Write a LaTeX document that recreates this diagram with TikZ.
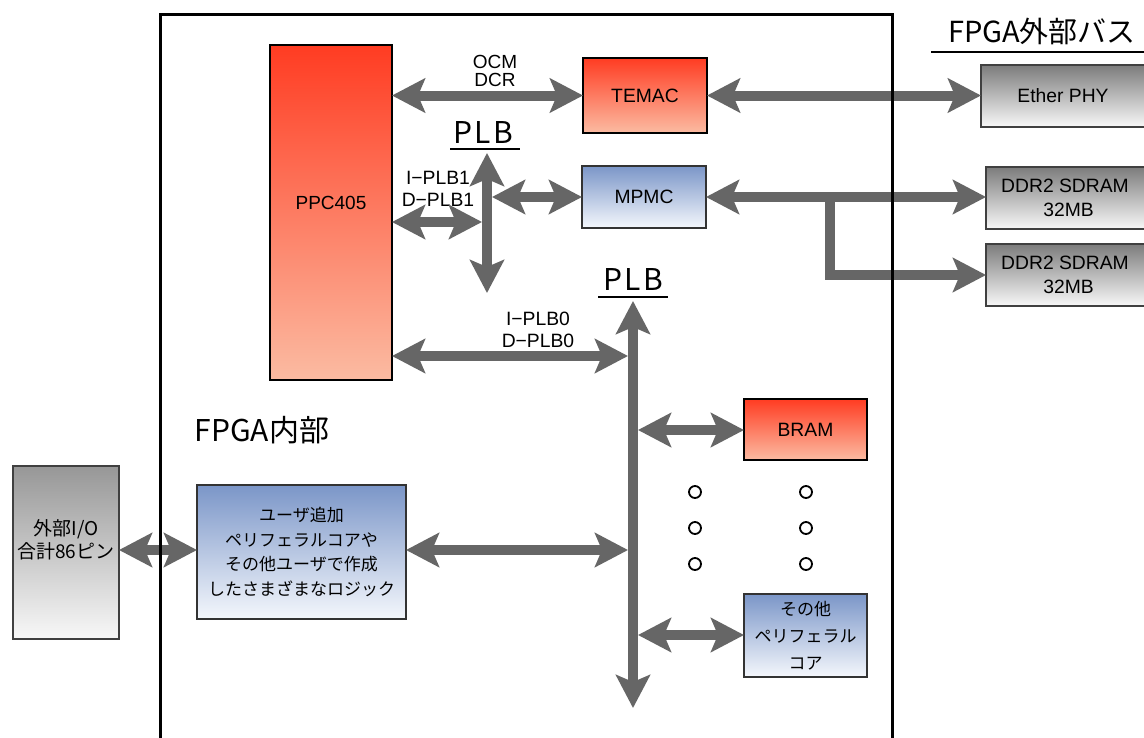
\documentclass[tikz,border=0pt]{standalone}
\usepackage{fontspec}
\setmainfont{Liberation Sans}
\newfontfamily\jp{Noto Sans CJK JP}
\newfontfamily\plbf[LetterSpace=8]{Noto Sans CJK JP}
\usetikzlibrary{arrows.meta}
\definecolor{arr}{HTML}{666666}
\definecolor{redtop}{HTML}{FF3C22}
\definecolor{redbot}{HTML}{FBBBA2}
\definecolor{bluetop}{HTML}{7B96C8}
\definecolor{bluebot}{HTML}{F4F7FC}
\definecolor{graytop}{HTML}{7C7C7C}
\definecolor{graybot}{HTML}{F8F8F8}
\definecolor{iotop}{HTML}{979797}
\begin{document}
\begin{tikzpicture}[x=1pt,y=-1pt,
  every node/.style={inner sep=0pt, outer sep=0pt},
  box/.style={draw, anchor=north west, align=center, font=\fontsize{19.3}{24}\selectfont},
  redbox/.style={box, line width=2pt, top color=redtop, bottom color=redbot},
  bluebox/.style={box, draw=black!80, line width=1.4pt, top color=bluetop, bottom color=bluebot},
  graybox/.style={box, draw=black!75, line width=1.4pt, top color=graytop, bottom color=graybot},
  jptext/.style={font=\jp\fontsize{17}{24.5}\selectfont, align=center},
  lbl/.style={font=\fontsize{19}{18}\selectfont, align=center},
  plb/.style={font=\plbf\fontsize{30}{30}\selectfont},
  >={Stealth[length=33pt,width=34pt,inset=7pt]},
  bus/.style={draw=arr, line width=10pt},
  dbl/.style={bus, <->},
  sgl/.style={bus, ->},
  dot/.style={draw, line width=1.8pt, circle, minimum size=12pt},
]
\clip (0,0) rectangle (1144,737);
\fill[white] (0,0) rectangle (1144,737);

% boxes
\node[redbox, minimum width=122pt, minimum height=335pt] (ppc) at (270,45) {};
\node[lbl] (ppct) at (331,203) {PPC405};
\node[redbox, minimum width=124pt, minimum height=75pt] (tem) at (583,58) {TEMAC};
\node[bluebox, minimum width=124pt, minimum height=62pt] (mpmc) at (582,166) {MPMC};
\node[graybox, minimum width=170pt, minimum height=62pt] (eth) at (981,65) {\hspace*{-6pt}Ether PHY};
\node[graybox, minimum width=165pt, minimum height=62pt] (ddr1) at (986,167) {\hspace*{-7pt}DDR2 SDRAM\\32MB};
\node[graybox, minimum width=165pt, minimum height=62pt] (ddr2) at (986,244) {\hspace*{-7pt}DDR2 SDRAM\\32MB};
\node[redbox, minimum width=123pt, minimum height=61pt] (bram) at (744,399) {BRAM};
\node[bluebox, minimum width=123pt, minimum height=83pt, jptext, font=\jp\fontsize{17}{27}\selectfont] (oth) at (744,594) {その他\\ペリフェラル\\コア};
\node[bluebox, minimum width=209pt, minimum height=134pt, jptext] (user) at (197,485) {ユーザ追加\\ペリフェラルコアや\\その他ユーザで作成\\したさまざまなロジック};
\node[box, draw=black!75, line width=1.4pt, top color=iotop, bottom color=graybot, minimum width=106pt, minimum height=173pt] (io) at (13,466) {};
\node[jptext, font=\jp\fontsize{19}{23}\selectfont] (iot) at (66,540) {外部I/O\\合計86ピン};

% labels
\node[lbl] (ocm) at (495,71) {OCM\\DCR};
\node[lbl, font=\fontsize{19.3}{21.5}\selectfont] (plb1) at (438,189) {I−PLB1\\D−PLB1};
\node[lbl, font=\fontsize{19.3}{22}\selectfont] (plb0) at (538,330) {I−PLB0\\D−PLB0};
\node[plb] (plbA) at (483,133) {PLB};
\draw[line width=2.5pt] (450,149) -- (520,149);
\node[plb] (plbB) at (633,279) {PLB};
\draw[line width=2.5pt] (598,297) -- (668,297);
\node[font=\jp\fontsize{29}{29}\selectfont] (ext) at (1042,31) {FPGA外部バス};
\draw[line width=2.5pt] (931,52) -- (1144,52);
\node[font=\jp\fontsize{30}{30}\selectfont] (int) at (262,430) {FPGA内部};

% bus coordinates
\coordinate (b1t) at (487,153);
\coordinate (b1b) at (487,293);
\coordinate (b1l) at (482,222);
\coordinate (b1r) at (492,197);
\coordinate (b2t) at (633,301);
\coordinate (b2b) at (633,708);
\coordinate (b2l) at (628,356);
\coordinate (b2u) at (628,550);
\coordinate (b2r) at (638,430);
\coordinate (b2o) at (638,635);
\coordinate (br) at (830,197);
\coordinate (ioy) at (0,550);

% connectors
\draw[dbl] (ppc.east |- tem.west) -- (tem.west);
\draw[dbl] (tem.east) -- (tem.east -| eth.west);
\draw[dbl] (b1t) -- (b1b);
\draw[dbl] (ppc.east |- b1l) -- (b1l);
\draw[dbl] (b1r) -- (b1r -| mpmc.west);
\draw[dbl] (mpmc.east |- br) -- (ddr1.west |- br);
\draw[sgl] (br) -- (br |- ddr2.west) -- (ddr2.west);
\draw[dbl] (b2t) -- (b2b);
\draw[dbl] (ppc.east |- b2l) -- (b2l);
\draw[dbl] (b2r) -- (b2r -| bram.west);
\draw[dbl] (b2o) -- (b2o -| oth.west);
\draw[dbl] (user.east |- b2u) -- (b2u);
\draw[dbl] (io.east |- ioy) -- (user.west |- ioy);

% dots
\foreach \x/\n in {695/a,806/b}{
  \foreach \y/\m in {492/1,528/2,564/3}{
    \node[dot] (d\n\m) at (\x,\y) {};
  }
}

% FPGA boundary
\draw[line width=3pt] (160,760) -- (160,14) -- (892,14) -- (892,760);
\end{tikzpicture}
\end{document}
